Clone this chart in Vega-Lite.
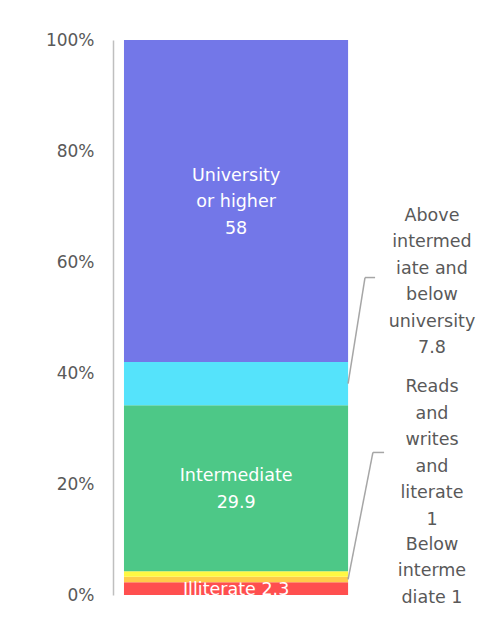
{
  "$schema": "https://vega.github.io/schema/vega-lite/v6.json",
  "width": 360,
  "height": 555,
  "autosize": "none",
  "padding": {"left": 113, "top": 40, "right": 12, "bottom": 32},
  "background": "#ffffff",
  "config": {
    "view": {"stroke": null},
    "font": "DejaVu Sans",
    "text": {"font": "DejaVu Sans", "fontSize": 17.5, "lineHeight": 26.5, "lineBreak": "\n", "baseline": "middle", "align": "center"}
  },
  "data": {
    "values": [
      {"level": "Illiterate", "value": 2.3, "rank": 1, "label": "Illiterate 2.3"},
      {"level": "Reads and writes and literate", "value": 1, "rank": 2, "label": "Reads\nand\nwrites\nand\nliterate\n1"},
      {"level": "Below intermediate", "value": 1, "rank": 3, "label": "Below\ninterme\ndiate 1"},
      {"level": "Intermediate", "value": 29.9, "rank": 4, "label": "Intermediate\n29.9"},
      {"level": "Above intermediate and below university", "value": 7.8, "rank": 5, "label": "Above\nintermed\niate and\nbelow\nuniversity\n7.8"},
      {"level": "University or higher", "value": 58, "rank": 6, "label": "University\nor higher\n58"}
    ]
  },
  "transform": [
    {"stack": "value", "groupby": [], "sort": [{"field": "rank", "order": "ascending"}], "as": ["y0", "y1"]},
    {"calculate": "(datum.y0 + datum.y1) / 2", "as": "mid"}
  ],
  "layer": [
    {
      "mark": {"type": "bar"},
      "encoding": {
        "x": {"datum": 3.05, "type": "quantitative", "scale": {"domain": [0, 100], "nice": false, "zero": true}, "axis": null},
        "x2": {"datum": 65.3},
        "y": {"field": "y0", "type": "quantitative", "scale": {"domain": [0, 100], "nice": false},
          "axis": {"values": [0, 20, 40, 60, 80, 100], "labelExpr": "datum.value + '%'", "ticks": false, "grid": false,
            "domainColor": "#bfbfbf", "domainWidth": 1.5, "labelPadding": 19, "labelFontSize": 17, "labelColor": "#595959", "labelFont": "DejaVu Sans", "title": null}},
        "y2": {"field": "y1"},
        "color": {"field": "level", "type": "nominal", "legend": null,
          "scale": {"domain": ["Illiterate", "Reads and writes and literate", "Below intermediate", "Intermediate", "Above intermediate and below university", "University or higher"],
            "range": ["#ff4f4f", "#ffcc4a", "#fff843", "#4dc887", "#55e3fb", "#7377e8"]}}
      }
    },
    {
      "transform": [{"filter": "datum.level === 'University or higher'"}],
      "mark": {"type": "text", "color": "#ffffff", "dy": -25},
      "encoding": {"x": {"datum": 34.2, "type": "quantitative"}, "y": {"field": "mid", "type": "quantitative"}, "text": {"field": "label"}}
    },
    {
      "transform": [{"filter": "datum.level === 'Intermediate'"}],
      "mark": {"type": "text", "color": "#ffffff", "dy": -12},
      "encoding": {"x": {"datum": 34.2, "type": "quantitative"}, "y": {"field": "mid", "type": "quantitative"}, "text": {"field": "label"}}
    },
    {
      "transform": [{"filter": "datum.level === 'Illiterate'"}],
      "mark": {"type": "text", "color": "#ffffff", "dy": 1},
      "encoding": {"x": {"datum": 34.2, "type": "quantitative"}, "y": {"field": "mid", "type": "quantitative"}, "text": {"field": "label"}}
    },
    {
      "transform": [{"filter": "datum.level === 'Above intermediate and below university'"}],
      "layer": [
        {"mark": {"type": "rule", "color": "#a6a6a6", "strokeWidth": 1.5, "y2Offset": -106},
          "encoding": {"x": {"datum": 65.3, "type": "quantitative"}, "x2": {"datum": 70}, "y": {"field": "mid", "type": "quantitative"}, "y2": {"field": "mid"}}},
        {"mark": {"type": "rule", "color": "#a6a6a6", "strokeWidth": 1.5, "yOffset": -106},
          "encoding": {"x": {"datum": 70, "type": "quantitative"}, "x2": {"datum": 72.8}, "y": {"field": "mid", "type": "quantitative"}}},
        {"mark": {"type": "text", "color": "#595959", "dy": -168},
          "encoding": {"x": {"datum": 88.6, "type": "quantitative"}, "y": {"field": "mid", "type": "quantitative"}, "text": {"field": "label"}}}
      ]
    },
    {
      "transform": [{"filter": "datum.level === 'Reads and writes and literate'"}],
      "layer": [
        {"mark": {"type": "rule", "color": "#a6a6a6", "strokeWidth": 1.5, "y2Offset": -127},
          "encoding": {"x": {"datum": 65.3, "type": "quantitative"}, "x2": {"datum": 72.2}, "y": {"field": "mid", "type": "quantitative"}, "y2": {"field": "mid"}}},
        {"mark": {"type": "rule", "color": "#a6a6a6", "strokeWidth": 1.5, "yOffset": -127},
          "encoding": {"x": {"datum": 72.2, "type": "quantitative"}, "x2": {"datum": 75.3}, "y": {"field": "mid", "type": "quantitative"}}},
        {"mark": {"type": "text", "color": "#595959", "dy": -192},
          "encoding": {"x": {"datum": 88.6, "type": "quantitative"}, "y": {"field": "mid", "type": "quantitative"}, "text": {"field": "label"}}}
      ]
    },
    {
      "transform": [{"filter": "datum.level === 'Below intermediate'"}],
      "mark": {"type": "text", "color": "#595959", "dy": -29},
      "encoding": {"x": {"datum": 88.6, "type": "quantitative"}, "y": {"field": "mid", "type": "quantitative"}, "text": {"field": "label"}}
    }
  ]
}
